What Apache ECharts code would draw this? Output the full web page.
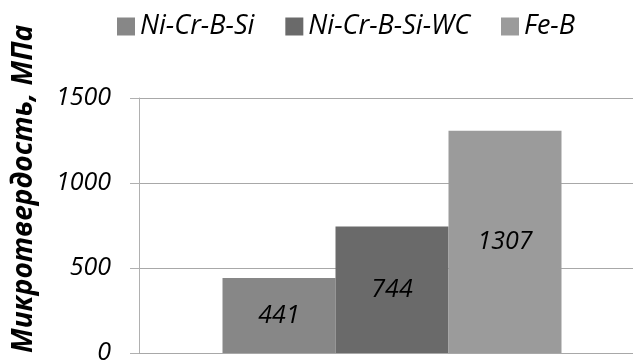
<!DOCTYPE html>
<html>
<head>
<meta charset="utf-8">
<script src="https://cdn.jsdelivr.net/npm/echarts@6/dist/echarts.min.js"></script>
<style>
html,body{margin:0;padding:0;background:#fff;}
#c{width:633px;height:360px;}
</style>
</head>
<body>
<div id="c"></div>
<script>
var categories = [''];
var seriesNames = ['Ni-Cr-B-Si', 'Ni-Cr-B-Si-WC', 'Fe-B'];
var niCrBSi = [441];
var niCrBSiWC = [744];
var feB = [1307];
var yTicks = [0, 500, 1000, 1500];
var yTitle = 'Микротвердость, МПа';

var colors = ['#878787', '#6a6a6a', '#9b9b9b'];
var FONT = '"Open Sans", "Noto Sans", sans-serif';

var chart = echarts.init(document.getElementById('c'), null, {renderer: 'canvas'});
function mkSeries(name, data, color) {
  return {
    name: name, type: 'bar', data: data,
    barWidth: 113, barGap: '0%',
    itemStyle: {color: color},
    label: {show: true, position: 'inside', color: '#000',
      fontFamily: FONT, fontStyle: 'italic', fontSize: 25},
    emphasis: {disabled: true}
  };
}
chart.setOption({
  animation: false,
  color: colors,
  legend: {
    top: 8, left: 112,
    itemWidth: 18, itemHeight: 18, itemGap: 31,
    icon: 'rect',
    textStyle: {fontFamily: FONT, fontStyle: 'italic', fontSize: 27, color: '#000'},
    data: seriesNames
  },
  grid: {left: 139, top: 98, height: 255, width: 506, outerBoundsMode: 'none', containLabel: false},
  xAxis: {
    type: 'category', data: categories,
    axisLine: {show: true, lineStyle: {color: '#a8a8a8', width: 1}},
    axisTick: {show: false}, axisLabel: {show: false}
  },
  yAxis: {
    type: 'value', min: yTicks[0], max: yTicks[yTicks.length-1], interval: 500,
    axisLine: {show: true, lineStyle: {color: '#b0b0b0'}},
    axisTick: {show: true, length: 9, lineStyle: {color: '#b0b0b0'}},
    axisLabel: {margin: 28, fontFamily: FONT, fontStyle: 'italic', fontSize: 25, color: '#000',
      formatter: function (v) { return String(v); }},
    splitLine: {lineStyle: {color: '#a8a8a8', width: 1}}
  },
  graphic: [{
    type: 'text', x: 24, y: 353, rotation: Math.PI / 2,
    style: {text: yTitle, fontFamily: FONT, fontStyle: 'italic', fontWeight: 'bold',
      fontSize: 28, fill: '#000', align: 'left', verticalAlign: 'middle'}
  }],
  series: [
    mkSeries(seriesNames[0], niCrBSi, colors[0]),
    mkSeries(seriesNames[1], niCrBSiWC, colors[1]),
    mkSeries(seriesNames[2], feB, colors[2])
  ]
});
</script>
</body>
</html>
